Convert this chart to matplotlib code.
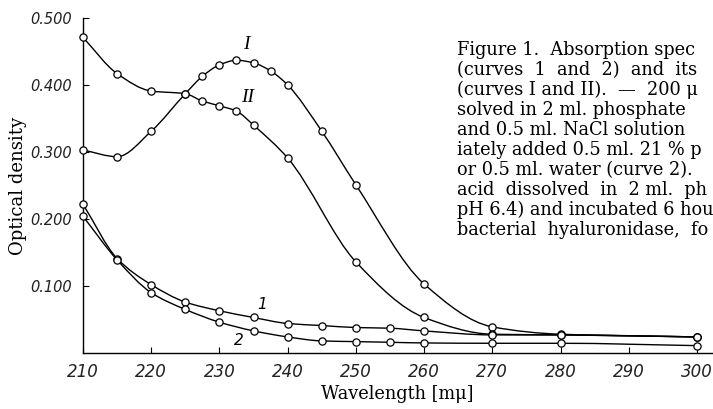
import matplotlib
matplotlib.use('Agg')
import matplotlib.pyplot as plt
from matplotlib.path import Path
from matplotlib.patches import PathPatch
import numpy as np

# wavelengths [m-mu] and optical densities
wl_I = [210, 215, 220, 225, 227.5, 230, 232.5, 235, 237.5, 240, 245, 250, 260, 270, 280, 300]
od_I = [0.303, 0.293, 0.331, 0.387, 0.413, 0.430, 0.437, 0.433, 0.421, 0.400, 0.331, 0.251, 0.103, 0.039, 0.028, 0.024]

wl_II = [210, 215, 220, 225, 227.5, 230, 232.5, 235, 240, 250, 260, 270, 280, 300]
od_II = [0.471, 0.417, 0.391, 0.387, 0.376, 0.369, 0.361, 0.340, 0.291, 0.136, 0.053, 0.028, 0.027, 0.024]

wl_1 = [210, 215, 220, 225, 230, 235, 240, 245, 250, 255, 260, 270, 280, 300]
od_1 = [0.222, 0.141, 0.102, 0.076, 0.063, 0.053, 0.044, 0.041, 0.038, 0.037, 0.033, 0.027, 0.027, 0.024]

wl_2 = [210, 215, 220, 225, 230, 235, 240, 245, 250, 255, 260, 270, 280, 300]
od_2 = [0.204, 0.139, 0.090, 0.065, 0.046, 0.033, 0.024, 0.018, 0.017, 0.016, 0.015, 0.0145, 0.0145, 0.011]

xticks = [210, 220, 230, 240, 250, 260, 270, 280, 290, 300]
yticks = [0.1, 0.2, 0.3, 0.4, 0.5]
ytick_labels = ['0.100', '0.200', '0.300', '0.400', '0.500']

caption = [
    'Figure 1.  Absorption spec',
    '(curves  1  and  2)  and  its',
    '(curves I and II).  \u2014  200 \u03bc',
    'solved in 2 ml. phosphate',
    'and 0.5 ml. NaCl solution',
    'iately added 0.5 ml. 21 % p',
    'or 0.5 ml. water (curve 2).',
    'acid  dissolved  in  2 ml.  ph',
    'pH 6.4) and incubated 6 hou',
    'bacterial  hyaluronidase,  fo',
]


def smooth_path(x, y):
    # bezier segments through the points, tangents chosen like pchip
    x = np.asarray(x, float)
    y = np.asarray(y, float)
    h = np.diff(x)
    d = np.diff(y) / h
    m = np.zeros_like(y)
    m[0], m[-1] = d[0], d[-1]
    for k in range(1, len(x) - 1):
        if d[k - 1] * d[k] > 0:
            w1 = 2 * h[k] + h[k - 1]
            w2 = h[k] + 2 * h[k - 1]
            m[k] = (w1 + w2) / (w1 / d[k - 1] + w2 / d[k])
    verts = [(x[0], y[0])]
    codes = [Path.MOVETO]
    for k in range(len(x) - 1):
        verts += [(x[k] + h[k] / 3, y[k] + m[k] * h[k] / 3),
                  (x[k + 1] - h[k] / 3, y[k + 1] - m[k + 1] * h[k] / 3),
                  (x[k + 1], y[k + 1])]
        codes += [Path.CURVE4] * 3
    return Path(verts, codes)


fig = plt.figure(figsize=(7.13, 4.09), dpi=100)
ax = fig.add_axes([83 / 713, 56 / 409, 629 / 713, 335 / 409])

for xs, ys in [(wl_I, od_I), (wl_II, od_II), (wl_1, od_1), (wl_2, od_2)]:
    ax.add_patch(PathPatch(smooth_path(xs, ys), facecolor='none', edgecolor='black',
                           linewidth=1.0, clip_on=False))
    ax.plot(xs, ys, linestyle='none', marker='o', markersize=5.2,
            markerfacecolor='white', markeredgecolor='black', markeredgewidth=0.9,
            clip_on=False, zorder=3)

ax.set_xlim(210, 302.2)
ax.set_ylim(0, 0.5)
for s in ['top', 'right']:
    ax.spines[s].set_visible(False)
ax.spines['left'].set_linewidth(1.0)
ax.spines['bottom'].set_linewidth(1.0)

tickfont = dict(family=['Liberation Sans Narrow', 'DejaVu Sans'], style='italic')
ax.set_xticks(xticks)
ax.set_xticklabels([str(t) for t in xticks], fontsize=12, color='#222222', **tickfont)
ax.set_yticks(yticks)
ax.set_yticklabels(ytick_labels, fontsize=10.5, color='#222222', **tickfont)
ax.tick_params(direction='in', length=4, width=0.8)
ax.tick_params(axis='x', pad=7)
ax.tick_params(axis='y', pad=8)

serif = ['DejaVu Serif']
ax.set_xlabel('Wavelength [m\u03bc]', family=serif, fontsize=12.8, labelpad=3)
ax.set_ylabel('Optical density', family=serif, fontsize=13, labelpad=2)

# curve names
ax.text(234.0, 0.460, 'I', family=['Liberation Serif'], style='italic', fontsize=14, ha='center', va='center')
ax.text(234.1, 0.381, 'II', family=['Liberation Serif'], style='italic', fontsize=14, ha='center', va='center')
ax.text(236.2, 0.072, '1', family=['Liberation Sans Narrow', 'DejaVu Sans'], style='italic', fontsize=11, ha='center', va='center')
ax.text(232.8, 0.018, '2', family=['Liberation Sans Narrow', 'DejaVu Sans'], style='italic', fontsize=11, ha='center', va='center')

for i, line in enumerate(caption):
    fig.text(457 / 713, 1 - (50 + 20 * i) / 409, line, family=serif, fontsize=12.8,
             ha='left', va='center')

fig.savefig('out.png', dpi=100)
